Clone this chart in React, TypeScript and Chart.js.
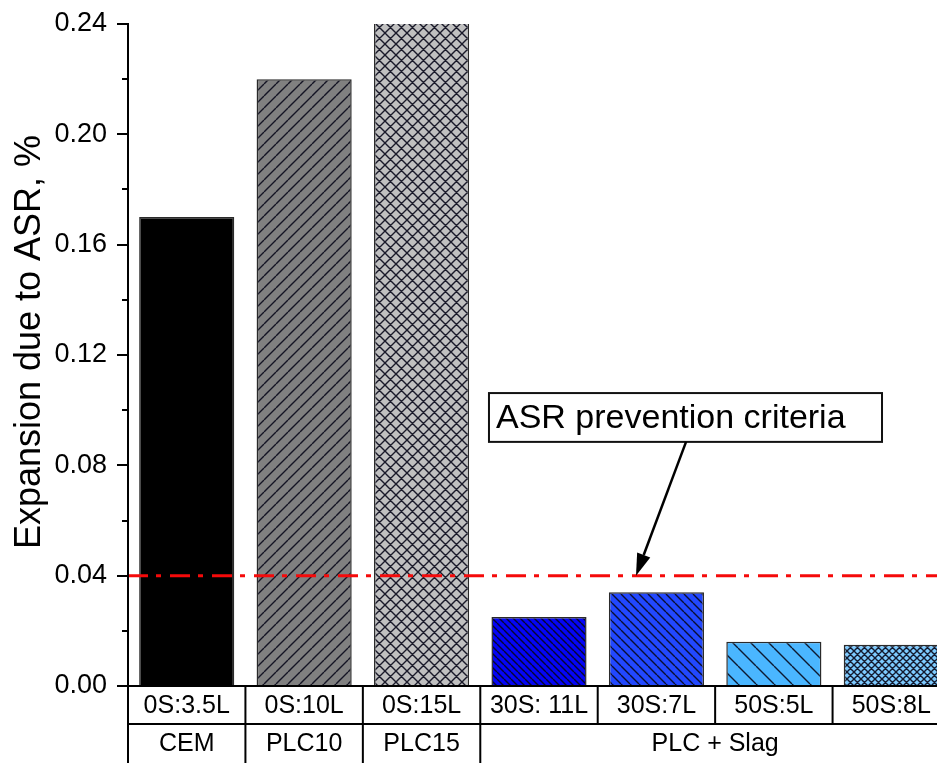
import { useEffect, useRef } from 'react';
import { Chart, registerables } from 'chart.js';

Chart.register(...registerables);

// Mix designs (slag : limestone) and their binder groups
const mixes = ['0S:3.5L', '0S:10L', '0S:15L', '30S: 11L', '30S:7L', '50S:5L', '50S:8L'];
const binderGroups = ['CEM', 'PLC10', 'PLC15', 'PLC + Slag'];
const groupSpans = [1, 1, 1, 4];

// Expansion due to ASR, %
const expansion = [0.17, 0.22, 0.25, 0.025, 0.034, 0.016, 0.015];

// Y axis range and ticks
const yMin = 0;
const yMax = 0.24;
const yMajorStep = 0.04;
const yMinorStep = 0.02;
const yTitle = 'Expansion due to ASR, %';

// Prevention limit and its callout
const criterion = 0.04;
const criterionLabel = 'ASR prevention criteria';
const calloutBox = { x0: 2.574, x1: 5.921, yTop: 0.1062, yBottom: 0.0885 };
const arrowTail = { x: 4.252, y: 0.0885 };
const arrowTip = { x: 3.826, y: 0.04 };

const FONT = '"Liberation Sans", Arial, Helvetica, sans-serif';

type HatchKind = 'none' | 'fwd' | 'back' | 'cross';
const barStyles: { bg: string; hatch: HatchKind; gap: number }[] = [
  { bg: '#000000', hatch: 'none', gap: 0 },
  { bg: '#808080', hatch: 'fwd', gap: 12 },
  { bg: '#c0c0c0', hatch: 'cross', gap: 11 },
  { bg: '#0505f5', hatch: 'back', gap: 7 },
  { bg: '#2248ff', hatch: 'back', gap: 9 },
  { bg: '#4ab6ff', hatch: 'back', gap: 18 },
  { bg: '#7ecbff', hatch: 'cross', gap: 7 },
];

function makeFill(bg: string, kind: HatchKind, s: number): string | CanvasPattern {
  if (kind === 'none') return bg;
  const c = document.createElement('canvas');
  c.width = s;
  c.height = s;
  const g = c.getContext('2d')!;
  g.fillStyle = bg;
  g.fillRect(0, 0, s, s);
  g.strokeStyle = 'rgba(8,8,25,0.9)';
  g.lineWidth = 1.4;
  g.beginPath();
  for (let k = -1; k <= 1; k++) {
    if (kind === 'fwd' || kind === 'cross') {
      g.moveTo(k * s, s);
      g.lineTo(k * s + s, 0);
    }
    if (kind === 'back' || kind === 'cross') {
      g.moveTo(k * s, 0);
      g.lineTo(k * s + s, s);
    }
  }
  g.stroke();
  return g.createPattern(c, 'repeat')!;
}

const overlay = {
  id: 'overlay',
  afterDatasetsDraw(chart: Chart) {
    const ctx = chart.ctx;
    const xs = chart.scales.x;
    const ys = chart.scales.y;
    const area = chart.chartArea;

    // limit line
    ctx.save();
    ctx.strokeStyle = '#f50a0a';
    ctx.lineWidth = 3;
    ctx.setLineDash([20, 8, 5, 9]);
    const yl = ys.getPixelForValue(criterion);
    ctx.beginPath();
    ctx.moveTo(area.left, yl);
    ctx.lineTo(chart.width, yl);
    ctx.stroke();
    ctx.restore();

    // callout box
    const bx0 = xs.getPixelForValue(calloutBox.x0);
    const bx1 = xs.getPixelForValue(calloutBox.x1);
    const by0 = ys.getPixelForValue(calloutBox.yTop);
    const by1 = ys.getPixelForValue(calloutBox.yBottom);
    ctx.save();
    ctx.fillStyle = '#ffffff';
    ctx.fillRect(bx0, by0, bx1 - bx0, by1 - by0);
    ctx.strokeStyle = '#111';
    ctx.lineWidth = 2;
    ctx.strokeRect(bx0, by0, bx1 - bx0, by1 - by0);
    ctx.fillStyle = '#000';
    ctx.font = `34px ${FONT}`;
    ctx.textAlign = 'left';
    ctx.textBaseline = 'middle';
    ctx.fillText(criterionLabel, bx0 + 7, (by0 + by1) / 2 + 1);

    // arrow
    const tx = xs.getPixelForValue(arrowTail.x);
    const ty = ys.getPixelForValue(arrowTail.y);
    const hx = xs.getPixelForValue(arrowTip.x);
    const hy = ys.getPixelForValue(arrowTip.y);
    const ang = Math.atan2(hy - ty, hx - tx);
    const headLen = 22;
    const headHalf = 7;
    const bxh = hx - headLen * Math.cos(ang);
    const byh = hy - headLen * Math.sin(ang);
    ctx.strokeStyle = '#000';
    ctx.lineWidth = 2.5;
    ctx.beginPath();
    ctx.moveTo(tx, ty);
    ctx.lineTo(bxh, byh);
    ctx.stroke();
    ctx.fillStyle = '#000';
    ctx.beginPath();
    ctx.moveTo(hx, hy);
    ctx.lineTo(bxh + headHalf * Math.sin(ang), byh - headHalf * Math.cos(ang));
    ctx.lineTo(bxh - headHalf * Math.sin(ang), byh + headHalf * Math.cos(ang));
    ctx.closePath();
    ctx.fill();
    ctx.restore();
  },
  afterDraw(chart: Chart) {
    const ctx = chart.ctx;
    const xs = chart.scales.x;
    const ys = chart.scales.y;
    const area = chart.chartArea;
    const step = xs.getPixelForValue(1) - xs.getPixelForValue(0);
    const edge = (i: number) => xs.getPixelForValue(i) - step / 2;
    const r0 = area.bottom;
    const r1 = area.bottom + 38;
    const r2 = chart.height;

    ctx.save();
    ctx.strokeStyle = '#000';
    ctx.lineWidth = 2;

    // minor ticks
    for (let v = yMin + yMinorStep; v < yMax; v += yMajorStep) {
      const py = Math.round(ys.getPixelForValue(v));
      ctx.beginPath();
      ctx.moveTo(area.left - 6, py);
      ctx.lineTo(area.left, py);
      ctx.stroke();
    }

    // axis line continued down through the table
    ctx.beginPath();
    ctx.moveTo(area.left, area.top);
    ctx.lineTo(area.left, r2);
    ctx.stroke();

    // table rules
    ctx.beginPath();
    ctx.moveTo(area.left, r0);
    ctx.lineTo(chart.width, r0);
    ctx.moveTo(area.left, r1);
    ctx.lineTo(chart.width, r1);
    for (let i = 0; i <= mixes.length; i++) {
      const ex = edge(i);
      ctx.moveTo(ex, r0);
      ctx.lineTo(ex, r1);
    }
    let acc = 0;
    for (const span of groupSpans) {
      acc += span;
      const ex = edge(acc);
      ctx.moveTo(ex, r1);
      ctx.lineTo(ex, r2);
    }
    ctx.stroke();

    // table text
    ctx.fillStyle = '#000';
    ctx.font = `25px ${FONT}`;
    ctx.textAlign = 'center';
    ctx.textBaseline = 'middle';
    mixes.forEach((m, i) => {
      ctx.fillText(m, xs.getPixelForValue(i), (r0 + r1) / 2 + 1);
    });
    let start = 0;
    binderGroups.forEach((g, gi) => {
      const end = start + groupSpans[gi];
      const cx = (edge(start) + edge(end)) / 2;
      ctx.fillText(g, cx, (r1 + r2) / 2 + 1);
      start = end;
    });

    // y axis title, rotated
    ctx.font = `36px ${FONT}`;
    ctx.translate(30, ys.getPixelForValue((yMin + yMax) / 2) - 13);
    ctx.rotate(-Math.PI / 2);
    ctx.textAlign = 'center';
    ctx.textBaseline = 'middle';
    ctx.fillText(yTitle, 0, 0);
    ctx.restore();
  },
};

export default function App() {
  const ref = useRef<HTMLCanvasElement | null>(null);

  useEffect(() => {
    if (!ref.current) return;
    Chart.defaults.font.family = FONT;
    Chart.defaults.color = '#000';
    const chart = new Chart(ref.current, {
      type: 'bar',
      data: {
        labels: mixes,
        datasets: [
          {
            data: expansion,
            backgroundColor: barStyles.map((s) => makeFill(s.bg, s.hatch, s.gap)) as any,
            borderColor: '#2a2a2a',
            borderWidth: 1.5,
            barPercentage: 0.81,
            categoryPercentage: 1,
          },
        ],
      },
      options: {
        responsive: false,
        animation: false,
        devicePixelRatio: 1,
        layout: { padding: { top: 24, right: 1, bottom: 0, left: 0 } },
        plugins: {
          legend: { display: false },
          tooltip: { enabled: false },
        },
        scales: {
          x: {
            type: 'category',
            offset: true,
            grid: { display: false },
            border: { display: false },
            ticks: { display: false },
            afterFit: (s: any) => {
              s.height = 77;
            },
          },
          y: {
            min: yMin,
            max: yMax,
            ticks: {
              stepSize: yMajorStep,
              font: { size: 27, lineHeight: 1 },
              padding: 10,
              color: '#000',
              callback: (v: any) => Number(v).toFixed(2),
            },
            grid: {
              drawOnChartArea: false,
              drawTicks: true,
              tickLength: 11,
              color: '#000',
              lineWidth: 2,
            },
            border: { display: true, color: '#000', width: 2 },
            title: { display: false },
            afterFit: (s: any) => {
              s.width = 128;
            },
          },
        },
      },
      plugins: [overlay],
    });
    return () => chart.destroy();
  }, []);

  return (
    <div
      style={{
        position: 'fixed',
        left: 0,
        top: 0,
        width: 937,
        height: 763,
        overflow: 'hidden',
        background: '#fff',
      }}
    >
      <canvas ref={ref} width={951} height={763} style={{ width: 951, height: 763, display: 'block' }} />
    </div>
  );
}
